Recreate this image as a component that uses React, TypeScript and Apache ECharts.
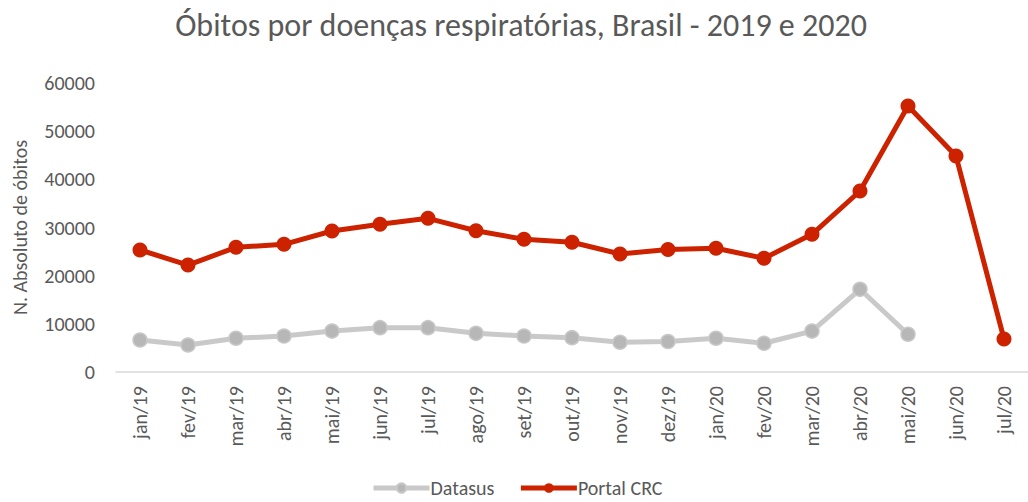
import React, { useEffect, useRef } from "react";
import * as echarts from "echarts";

const categories = ["jan/19","fev/19","mar/19","abr/19","mai/19","jun/19","jul/19","ago/19","set/19","out/19","nov/19","dez/19","jan/20","fev/20","mar/20","abr/20","mai/20","jun/20","jul/20"];
const datasus: (number | null)[] = [6640,5600,7000,7470,8500,9200,9200,8030,7470,7120,6170,6330,7000,5960,8500,17170,7830,null,null];
const portalCRC: number[] = [25330,22200,25890,26510,29270,30660,31910,29330,27550,26930,24500,25430,25680,23600,28590,37580,55220,44840,6850];
const yTicks = { min: 0, max: 60000, interval: 10000 };

const FONT = "Carlito, Lato, 'Open Sans', sans-serif";
const TXT = "#595959";
const RED = "#cc2200";

export default function App() {
  const ref = useRef<HTMLDivElement>(null);
  useEffect(() => {
    if (!ref.current) return;
    const chart = echarts.init(ref.current, undefined, { renderer: "svg" });
    chart.setOption({
      animation: false,
      backgroundColor: "#ffffff",
      title: {
        text: "Óbitos por doenças respiratórias, Brasil - 2019 e 2020",
        left: 516,
        textAlign: "center",
        top: 4,
        textStyle: { fontFamily: FONT, fontSize: 32, fontWeight: "normal", color: TXT },
      },
      legend: {
        bottom: -1,
        left: 366,
        itemWidth: 56,
        itemHeight: 12,
        itemGap: 24,
        lineStyle: { width: 5 },
        textStyle: { fontFamily: FONT, fontSize: 20, color: TXT, padding: [0, 0, 0, -4] },
        data: ["Datasus", "Portal CRC"],
      },
      grid: { left: 116, top: 83, width: 920, height: 289, containLabel: false },
      xAxis: {
        type: "category",
        data: categories,
        boundaryGap: true,
        axisLine: { show: true, lineStyle: { color: "#d9d9d9", width: 1.5 } },
        axisTick: { show: false },
        axisLabel: { rotate: 90, margin: 14, fontFamily: FONT, fontSize: 20, color: TXT, interval: 0 },
      },
      yAxis: {
        type: "value",
        min: yTicks.min,
        max: yTicks.max,
        interval: yTicks.interval,
        name: "N. Absoluto de óbitos",
        nameLocation: "middle",
        nameGap: 86,
        nameRotate: 90,
        nameTextStyle: { fontFamily: FONT, fontSize: 20, color: TXT },
        splitLine: { show: false },
        axisLine: { show: false },
        axisTick: { show: false },
        axisLabel: { margin: 21, fontFamily: FONT, fontSize: 20, color: TXT, formatter: (v: number) => String(v) },
      },
      series: [
        {
          name: "Datasus",
          type: "line",
          data: datasus,
          symbol: "circle",
          symbolSize: 14,
          connectNulls: false,
          lineStyle: { color: "#c9c9c9", width: 5 },
          itemStyle: { color: "#b7b7b7", borderColor: "#c9c9c9", borderWidth: 1.5 },
          z: 2,
        },
        {
          name: "Portal CRC",
          type: "line",
          data: portalCRC,
          symbol: "circle",
          symbolSize: 15,
          lineStyle: { color: RED, width: 5 },
          itemStyle: { color: RED },
          z: 3,
        },
      ],
    });
    return () => chart.dispose();
  }, []);
  return <div ref={ref} style={{ position: "fixed", left: 0, top: 0, width: 1028, height: 502 }} />;
}
